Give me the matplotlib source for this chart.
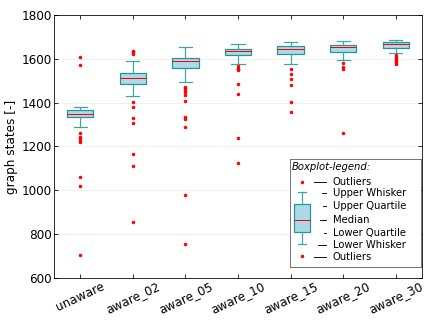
import matplotlib
matplotlib.use("Agg")
import matplotlib.pyplot as plt

# boxplot statistics
labels = ["unaware", "aware_02", "aware_05", "aware_10", "aware_15", "aware_20", "aware_30"]
whislo = [1290, 1432, 1493, 1578, 1575, 1593, 1624]
q1 = [1333, 1484, 1560, 1616, 1621, 1633, 1651]
med = [1350, 1511, 1592, 1637, 1646, 1655, 1666]
q3 = [1365, 1534, 1605, 1646, 1657, 1665, 1675]
whishi = [1382, 1592, 1653, 1669, 1675, 1683, 1687]
fliers = [
    [1607, 1573, 1260, 1245, 1238, 1230, 1222, 1059, 1020, 705],
    [1637, 1630, 1622, 1402, 1382, 1329, 1309, 1167, 1111, 854],
    [1473, 1465, 1457, 1450, 1435, 1408, 1333, 1327, 1290, 977, 754],
    [1567, 1560, 1553, 1547, 1487, 1441, 1237, 1126],
    [1555, 1529, 1507, 1479, 1404, 1359],
    [1581, 1564, 1552, 1260],
    [1617, 1610, 1603, 1596, 1589, 1582, 1576],
]

legend_names = ["Outliers", "Upper Whisker", "Upper Quartile", "Median",
                "Lower Quartile", "Lower Whisker", "Outliers"]

edge = "#1f9595"
styles = dict(
    patch_artist=True,
    boxprops=dict(facecolor="lightblue", edgecolor=edge, linewidth=1.2),
    whiskerprops=dict(color="#3aa5a5", linewidth=1.2),
    capprops=dict(color="#3aa5a5", linewidth=1.2),
    medianprops=dict(color="red", linewidth=1.0),
    flierprops=dict(marker="o", markersize=2.5, markerfacecolor="red",
                    markeredgecolor="red", linestyle="none"),
)

fig = plt.figure(figsize=(6, 4.5), dpi=72)
ax = fig.add_axes([0.125, 0.142, 0.852, 0.812])

stats = []
for i in range(len(labels)):
    stats.append(dict(label=labels[i], whislo=whislo[i], q1=q1[i], med=med[i],
                      q3=q3[i], whishi=whishi[i], fliers=fliers[i]))
ax.bxp(stats, widths=0.5, **styles)

ax.set_ylim(600, 1800)
ax.set_xlim(0.5, len(labels) + 0.5)
ax.set_yticks([600, 800, 1000, 1200, 1400, 1600, 1800])
ax.set_xticklabels(labels, rotation=25, ha="center", fontsize=12)
ax.tick_params(axis="y", labelsize=12)
ax.tick_params(direction="in", top=True, right=True, length=4, pad=2)
ax.yaxis.grid(True, color="#eeeeee", linewidth=0.8)
ax.set_axisbelow(True)
ax.set_ylabel("graph states [-]", fontsize=12)
for s in ax.spines.values():
    s.set_color("black")

# legend panel with a small example boxplot
lax = fig.add_axes([0.671, 0.177, 0.3026, 0.3315])
demo = dict(whislo=84.7, q1=72.7, med=61, q3=45, whishi=33, fliers=[22.4, 96.4])
lax.bxp([demo], positions=[12], widths=16, **styles)
lax.set_xlim(0, 130.7)
lax.set_ylim(107.4, 0)
lax.set_xticks([])
lax.set_yticks([])
for s in lax.spines.values():
    s.set_color("#555555")
    s.set_linewidth(0.8)

lax.text(2, 8, "Boxplot-legend:", style="italic", fontsize=10, va="center")
rows = [22.4, 34, 46.4, 60.7, 73.4, 85.7, 97.4]
starts = [23.7, 32, 33, 30, 34, 27.7, 23.7]
for name, yy, x0 in zip(legend_names, rows, starts):
    lax.plot([x0, 36], [yy, yy], color="black", linewidth=0.9)
    lax.text(43, yy, name, fontsize=10, va="center")

fig.savefig("out.png", dpi=72)
